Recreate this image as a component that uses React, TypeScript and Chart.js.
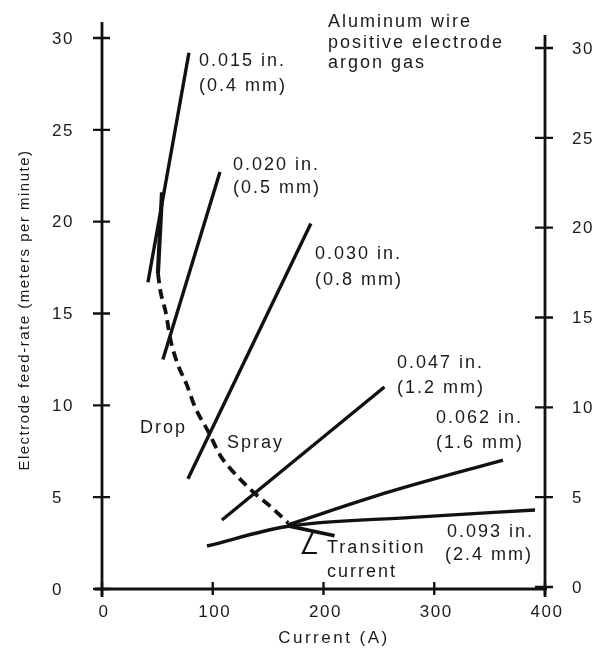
import React, { useEffect, useRef } from "react";
import { Chart, registerables } from "chart.js";

Chart.register(...registerables);

// ---- axis ticks ----
const currentTicks = [0, 100, 200, 300, 400];
const feedTicks = [0, 5, 10, 15, 20, 25, 30];

// ---- wire series (current A, feed-rate m/min) ----
const wire015Current = [41.5, 78.5];
const wire015Feed = [16.7, 29.2];
const wire020Current = [55, 106.5];
const wire020Feed = [12.5, 22.7];
const wire030Current = [77.6, 188.6];
const wire030Feed = [6.0, 19.9];
const wire047Current = [108.3, 255];
const wire047Feed = [3.76, 11.0];
const wire062Current = [167, 260, 362];
const wire062Feed = [3.48, 5.3, 7.02];
const wire093Current = [94.8, 167, 280, 391];
const wire093Feed = [2.34, 3.4, 3.9, 4.3];

// ---- drop/spray transition curve ----
const transitionTopCurrent = [54.2, 50.5];
const transitionTopFeed = [21.6, 17.2];
const transitionCurrent = [50.5, 52.5, 57.8, 61.4, 68, 76.7, 84, 96.6, 106.5, 118.2, 138, 152, 168];
const transitionFeed = [17.2, 16.3, 15.0, 13.7, 12.3, 11.1, 9.9, 8.5, 7.3, 6.4, 5.2, 4.5, 3.6];
const transitionTailCurrent = [167, 210];
const transitionTailFeed = [3.45, 2.9];
const pointerCurrent = [190.4, 181.4, 194];
const pointerFeed = [3.1, 1.96, 1.96];

// ---- annotation texts (anchored at data coordinates, left edge / middle) ----
const labelTexts = [
  "0.015 in.", "(0.4 mm)",
  "0.020 in.", "(0.5 mm)",
  "0.030 in.", "(0.8 mm)",
  "0.047 in.", "(1.2 mm)",
  "0.062 in.", "(1.6 mm)",
  "0.093 in.", "(2.4 mm)",
  "Transition", "current",
  "Drop", "Spray",
  "Aluminum wire", "positive electrode", "argon gas",
];
const labelCurrent = [
  87.6, 87.6,
  118.3, 118.3,
  192.3, 192.3,
  266.4, 266.4,
  301.6, 301.6,
  311.5, 309.7,
  203.2, 203.2,
  34.3, 112.9,
  204, 204, 204,
];
const labelFeed = [
  28.74, 27.38,
  23.1, 21.83,
  18.24, 16.82,
  12.3, 10.94,
  9.31, 7.95,
  3.1, 1.85,
  2.23, 0.93,
  8.76, 7.95,
  30.87, 29.72, 28.63,
];

const xTitle = "Current (A)";
const yTitle = "Electrode feed-rate (meters per minute)";

const INK = "#111111";
const TEXT = "#1a1a1a";
const FONT = '"Liberation Sans", Arial, Helvetica, sans-serif';

function pts(xs: number[], ys: number[]) {
  return xs.map((x, i) => ({ x, y: ys[i] }));
}

const decorPlugin = {
  id: "decor",
  afterDraw(chart: any) {
    const ctx: any = chart.ctx;
    const xs = chart.scales.x;
    const ys = chart.scales.y;
    const y2 = chart.scales.y2;
    const x0 = xs.getPixelForValue(currentTicks[0]);
    const x4 = xs.getPixelForValue(currentTicks[currentTicks.length - 1]);
    const yb = ys.getPixelForValue(0);
    const yt = ys.getPixelForValue(30);
    const y2t = y2.getPixelForValue(30);

    ctx.save();
    ctx.strokeStyle = INK;
    ctx.lineWidth = 2.8;
    ctx.lineCap = "butt";
    ctx.beginPath();
    // axis lines
    ctx.moveTo(x0, yt - 16);
    ctx.lineTo(x0, yb + 8);
    ctx.moveTo(x0 - 7, yb);
    ctx.lineTo(x4 + 2, yb);
    ctx.moveTo(x4, y2t - 13);
    ctx.lineTo(x4, yb + 8);
    ctx.stroke();
    // crossing tick marks
    ctx.lineWidth = 2.4;
    ctx.beginPath();
    feedTicks.forEach((v) => {
      const p = ys.getPixelForValue(v);
      ctx.moveTo(x0 - 9, p);
      ctx.lineTo(x0 + 8, p);
      const q = y2.getPixelForValue(v);
      ctx.moveTo(x4 - 10, q);
      ctx.lineTo(x4 + 8, q);
    });
    currentTicks.forEach((v) => {
      const p = xs.getPixelForValue(v);
      ctx.moveTo(p, yb - 7);
      ctx.lineTo(p, yb + 6);
    });
    ctx.stroke();

    // tick labels
    ctx.fillStyle = TEXT;
    ctx.textBaseline = "middle";
    ctx.font = `17px ${FONT}`;
    ctx.letterSpacing = "1.5px";
    ctx.textAlign = "left";
    feedTicks.forEach((v) => {
      ctx.fillText(String(v), 52, ys.getPixelForValue(v) + 1);
      ctx.fillText(String(v), x4 + 27, y2.getPixelForValue(v) + 1);
    });
    ctx.textAlign = "center";
    currentTicks.forEach((v) => {
      ctx.fillText(String(v), xs.getPixelForValue(v) + 2, yb + 23);
    });

    // axis titles
    ctx.font = `17px ${FONT}`;
    ctx.letterSpacing = "2.5px";
    ctx.textAlign = "center";
    ctx.fillText(xTitle, 334, 638);
    ctx.save();
    ctx.translate(25, 310);
    ctx.rotate(-Math.PI / 2);
    ctx.font = `15px ${FONT}`;
    ctx.letterSpacing = "1.5px";
    ctx.fillText(yTitle, 0, 0);
    ctx.restore();

    // annotations
    ctx.font = `18px ${FONT}`;
    ctx.letterSpacing = "2px";
    ctx.textAlign = "left";
    labelTexts.forEach((t, i) => {
      ctx.fillText(t, xs.getPixelForValue(labelCurrent[i]), ys.getPixelForValue(labelFeed[i]));
    });
    ctx.restore();
  },
};

export default function App() {
  const ref = useRef<HTMLCanvasElement | null>(null);
  useEffect(() => {
    if (!ref.current) return;
    const solid = (xs: number[], ys: number[], w = 3.4) => ({
      data: pts(xs, ys),
      showLine: true,
      borderColor: INK,
      borderWidth: w,
      pointRadius: 0,
      fill: false,
      clip: false,
    });
    const chart = new Chart(ref.current, {
      type: "scatter",
      data: {
        datasets: [
          solid(wire015Current, wire015Feed),
          solid(wire020Current, wire020Feed),
          solid(wire030Current, wire030Feed),
          solid(wire047Current, wire047Feed),
          { ...solid(wire062Current, wire062Feed), cubicInterpolationMode: "monotone" },
          { ...solid(wire093Current, wire093Feed), cubicInterpolationMode: "monotone" },
          solid(transitionTopCurrent, transitionTopFeed, 4.2),
          {
            ...solid(transitionCurrent, transitionFeed, 3.8),
            borderDash: [10, 6],
            cubicInterpolationMode: "monotone",
          },
          solid(transitionTailCurrent, transitionTailFeed, 3.6),
          solid(pointerCurrent, pointerFeed, 2.2),
        ] as any,
      },
      options: {
        animation: false,
        responsive: false,
        layout: { padding: { top: 38, left: 0, right: 0, bottom: 0 } },
        plugins: { legend: { display: false }, tooltip: { enabled: false } },
        scales: {
          x: {
            type: "linear",
            min: 0,
            max: 400,
            grid: { display: false },
            border: { display: false },
            ticks: { display: false },
            afterFit: (s: any) => { s.height = 64; },
          },
          y: {
            type: "linear",
            position: "left",
            min: 0,
            max: 30,
            grid: { display: false },
            border: { display: false },
            ticks: { display: false },
            afterFit: (s: any) => { s.width = 102; },
          },
          y2: {
            type: "linear",
            position: "right",
            min: -0.111,
            max: 30.557,
            grid: { display: false },
            border: { display: false },
            ticks: { display: false },
            afterBuildTicks: (s: any) => { s.ticks = feedTicks.map((v) => ({ value: v })); },
            afterFit: (s: any) => { s.width = 63; },
          },
        },
      } as any,
      plugins: [decorPlugin],
    });
    return () => chart.destroy();
  }, []);
  return (
    <div style={{ position: "fixed", left: 0, top: 0, width: 608, height: 653, background: "#fff" }}>
      <canvas ref={ref} width={608} height={653} style={{ display: "block" }} />
    </div>
  );
}
